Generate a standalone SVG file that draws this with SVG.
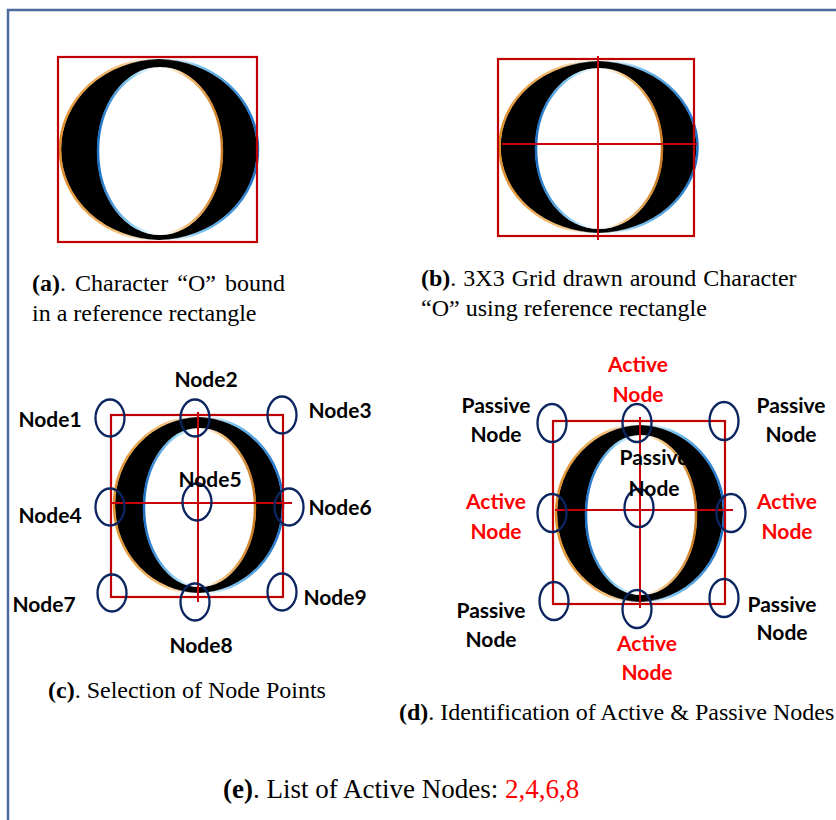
<svg xmlns="http://www.w3.org/2000/svg" width="836" height="820" viewBox="0 0 836 820">
<style>
.cap{font-family:"Liberation Serif","Times New Roman",serif;font-size:24px;fill:#000}
.b{font-weight:bold}
.lbl{font-family:Lato,"Open Sans","Liberation Sans",sans-serif;font-weight:bold;font-size:21px;fill:#000;text-anchor:middle}
.act{fill:#ff0000}
.rect{fill:none;stroke:#c00000;stroke-width:2.2}
.grid{stroke:#c8000a;stroke-width:2}
.ring{fill:none;stroke:#0b2560;stroke-width:2.3}
.ink{fill:#000}
.hole{fill:#fff}
.fo{fill:none;stroke:url(#gOut);stroke-width:2.5}
.fi{fill:none;stroke:url(#gIn);stroke-width:2.5}
</style>
<defs>
<linearGradient id="gOut" x1="0" y1="0" x2="1" y2="0">
<stop offset="0" stop-color="#e0902e"/>
<stop offset="0.3" stop-color="#f3c07a"/>
<stop offset="0.5" stop-color="#ffffff" stop-opacity="0"/>
<stop offset="0.7" stop-color="#7cc4f0"/>
<stop offset="1" stop-color="#1a6fc4"/>
</linearGradient>
<linearGradient id="gIn" x1="0" y1="0" x2="1" y2="0">
<stop offset="0" stop-color="#1a6fc4"/>
<stop offset="0.3" stop-color="#9ad8f5"/>
<stop offset="0.5" stop-color="#ffffff" stop-opacity="0"/>
<stop offset="0.7" stop-color="#f3c07a"/>
<stop offset="1" stop-color="#c97a22"/>
</linearGradient>
</defs>
<rect width="836" height="820" fill="#fff"/>
<g id="frame" fill="none" stroke="#4a6b9c" stroke-width="2.5">
<path d="M8,820 V10 H836"/>
</g>

<g id="panel-a">
<ellipse class="ink" cx="159" cy="149.5" rx="98" ry="90.5"/>
<ellipse class="fo" cx="159" cy="149.5" rx="99" ry="91"/>
<ellipse class="hole" cx="160" cy="151" rx="63" ry="84"/>
<ellipse class="fi" cx="160" cy="151" rx="62" ry="83"/>
<rect class="rect" x="58" y="57" width="199" height="185"/>
<text class="cap" x="32" y="291" word-spacing="3"><tspan class="b">(a)</tspan>. Character “O” bound</text>
<text class="cap" x="32" y="321">in a reference rectangle</text>
</g>

<g id="panel-b">
<ellipse class="ink" cx="598.5" cy="147" rx="98" ry="86"/>
<ellipse class="fo" cx="598.5" cy="147" rx="99" ry="86.5"/>
<ellipse class="hole" cx="599" cy="148.5" rx="64" ry="80.5"/>
<ellipse class="fi" cx="599" cy="148.5" rx="63" ry="79.5"/>
<rect class="rect" x="498" y="59" width="196" height="177"/>
<line class="grid" x1="598" y1="56" x2="598" y2="240"/>
<line class="grid" x1="502" y1="144" x2="697" y2="144"/>
<text class="cap" x="421" y="286" word-spacing="1"><tspan class="b">(b)</tspan>. 3X3 Grid drawn around Character</text>
<text class="cap" x="421" y="316">“O” using reference rectangle</text>
</g>

<g id="panel-c">
<ellipse class="ink" cx="198.5" cy="505" rx="83.5" ry="88"/>
<ellipse class="fo" cx="198.5" cy="505" rx="84.5" ry="88.5"/>
<ellipse class="hole" cx="199.5" cy="507.5" rx="56.5" ry="79.5"/>
<ellipse class="fi" cx="199.5" cy="507.5" rx="55.5" ry="78.5"/>
<rect class="rect" x="111" y="415" width="172" height="182"/>
<line class="grid" x1="198" y1="412" x2="198" y2="602"/>
<line class="grid" x1="112" y1="503" x2="292" y2="503"/>
<g id="node1"><ellipse class="ring" cx="110" cy="418" rx="14.5" ry="18.5"/><text class="lbl" x="50" y="427">Node1</text></g>
<g id="node2"><ellipse class="ring" cx="195" cy="418" rx="14.5" ry="18.5"/><text class="lbl" x="206" y="387">Node2</text></g>
<g id="node3"><ellipse class="ring" cx="282" cy="415" rx="14.5" ry="18.5"/><text class="lbl" x="340" y="418">Node3</text></g>
<g id="node4"><ellipse class="ring" cx="110" cy="507" rx="14.5" ry="18.5"/><text class="lbl" x="50" y="523">Node4</text></g>
<g id="node5"><ellipse class="ring" cx="197" cy="502" rx="14.5" ry="18.5"/><text class="lbl" x="210" y="487">Node5</text></g>
<g id="node6"><ellipse class="ring" cx="289" cy="507" rx="14.5" ry="18.5"/><text class="lbl" x="340" y="515">Node6</text></g>
<g id="node7"><ellipse class="ring" cx="112" cy="593" rx="14.5" ry="18.5"/><text class="lbl" x="44" y="612">Node7</text></g>
<g id="node8"><ellipse class="ring" cx="195" cy="602" rx="14.5" ry="18.5"/><text class="lbl" x="201" y="653">Node8</text></g>
<g id="node9"><ellipse class="ring" cx="282" cy="592" rx="14.5" ry="18.5"/><text class="lbl" x="335" y="605">Node9</text></g>
<text class="cap" x="48" y="698"><tspan class="b">(c)</tspan>. Selection of Node Points</text>
</g>

<g id="panel-d">
<ellipse class="ink" cx="640" cy="513.5" rx="83" ry="88.5"/>
<ellipse class="fo" cx="640" cy="513.5" rx="84" ry="89"/>
<ellipse class="hole" cx="641" cy="515" rx="56" ry="80"/>
<ellipse class="fi" cx="641" cy="515" rx="55" ry="79"/>
<rect class="rect" x="553" y="421" width="172" height="183"/>
<line class="grid" x1="640" y1="417" x2="640" y2="608"/>
<line class="grid" x1="555" y1="510" x2="733" y2="510"/>
<g id="d-node1"><ellipse class="ring" cx="552" cy="423" rx="14.5" ry="19"/><text class="lbl" x="496" y="413">Passive</text><text class="lbl" x="496" y="442">Node</text></g>
<g id="d-node2"><ellipse class="ring" cx="637" cy="423" rx="14.5" ry="19"/><text class="lbl act" x="638" y="372">Active</text><text class="lbl act" x="638" y="402">Node</text></g>
<g id="d-node3"><ellipse class="ring" cx="724" cy="421" rx="14.5" ry="19"/><text class="lbl" x="791" y="413">Passive</text><text class="lbl" x="791" y="442">Node</text></g>
<g id="d-node4"><ellipse class="ring" cx="552" cy="513" rx="14.5" ry="19"/><text class="lbl act" x="496" y="509">Active</text><text class="lbl act" x="496" y="539">Node</text></g>
<g id="d-node5"><ellipse class="ring" cx="639" cy="508" rx="14.5" ry="19"/><text class="lbl" x="654" y="465">Passive</text><text class="lbl" x="654" y="496">Node</text></g>
<g id="d-node6"><ellipse class="ring" cx="731" cy="513" rx="14.5" ry="19"/><text class="lbl act" x="787" y="509">Active</text><text class="lbl act" x="787" y="539">Node</text></g>
<g id="d-node7"><ellipse class="ring" cx="554" cy="601" rx="14.5" ry="19"/><text class="lbl" x="491" y="618">Passive</text><text class="lbl" x="491" y="647">Node</text></g>
<g id="d-node8"><ellipse class="ring" cx="637" cy="609" rx="14.5" ry="19"/><text class="lbl act" x="647" y="651">Active</text><text class="lbl act" x="647" y="680">Node</text></g>
<g id="d-node9"><ellipse class="ring" cx="724" cy="598" rx="14.5" ry="19"/><text class="lbl" x="782" y="612">Passive</text><text class="lbl" x="782" y="640">Node</text></g>
<text class="cap" x="399" y="720"><tspan class="b">(d)</tspan>. Identification of Active &amp; Passive Nodes</text>
</g>

<g id="connectors"></g>

<text class="cap" x="223" y="798" style="font-size:27px"><tspan class="b">(e)</tspan>. List of Active Nodes: <tspan class="act">2,4,6,8</tspan></text>
</svg>
